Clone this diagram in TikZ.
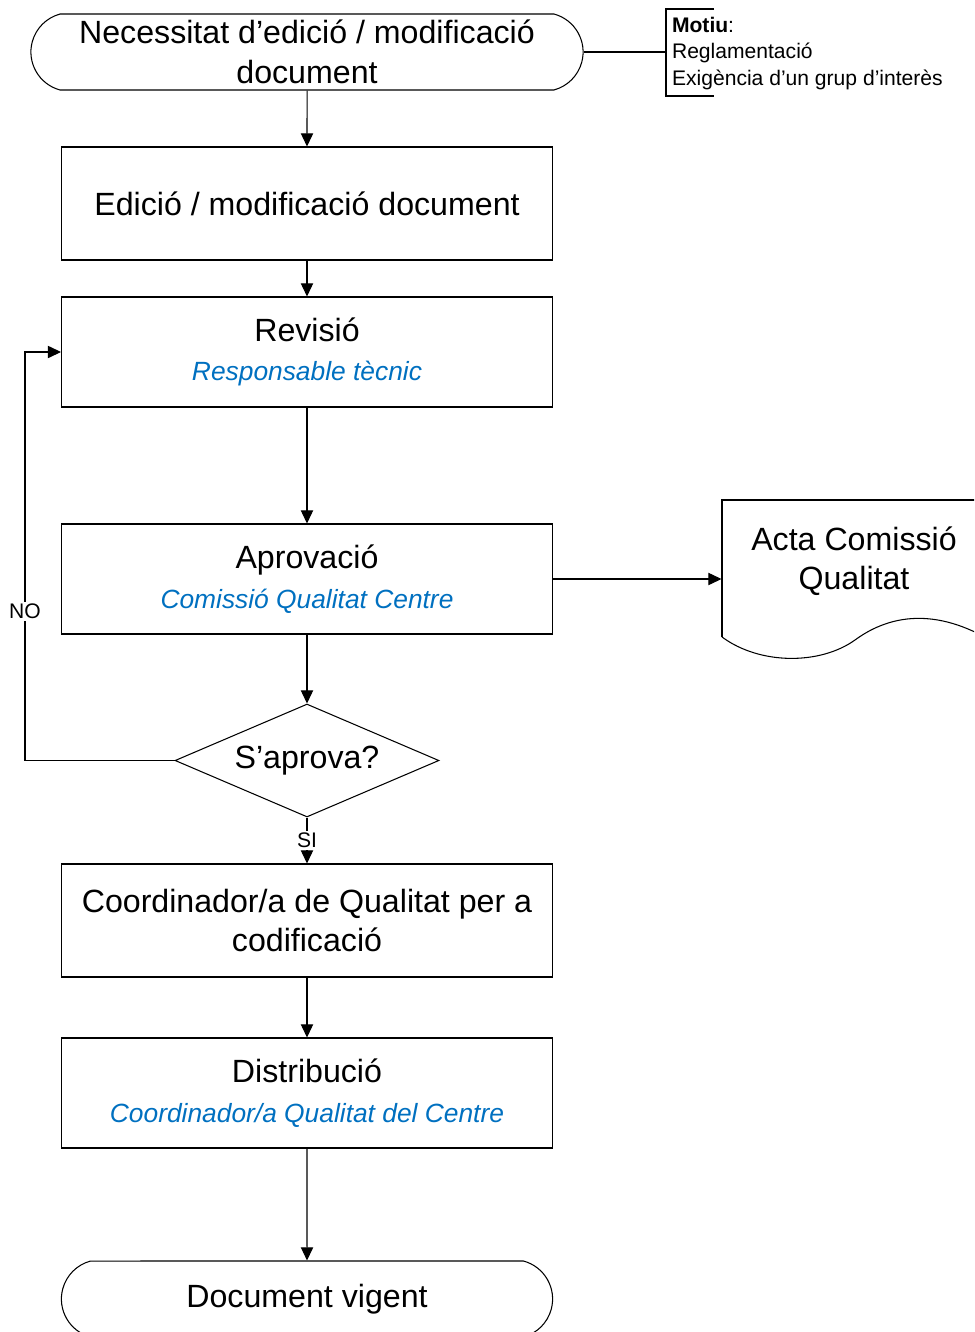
\documentclass[tikz,border=0pt]{standalone}
\usepackage{fontspec}
\setmainfont{Liberation Sans}
\usetikzlibrary{shapes.geometric,shapes.misc,arrows.meta}
\definecolor{rolblue}{RGB}{0,112,192}
\newcommand{\rol}[1]{{\fontsize{15}{18}\selectfont\itshape\color{rolblue}#1}}

\begin{document}
\begin{tikzpicture}[x=0.02cm, y=-0.02cm, line width=0.6pt, >={Triangle[length=7.5pt,width=7pt]},
	font=\fontsize{18.3}{22.5}\selectfont,
	pas/.style={draw, rectangle, minimum width=9.82cm, minimum height=2.2cm, align=center},
	term/.style={draw, rounded rectangle, rounded rectangle arc length=150, minimum height=1.52cm, inner ysep=1pt, align=center},
	decisio/.style={draw, diamond, aspect=2.34, inner sep=0pt, minimum width=5.28cm, minimum height=2.26cm},
	etiq/.style={fill=white, font=\fontsize{12}{14}\selectfont, inner sep=1pt},
	nota/.style={font=\fontsize{12}{15}\selectfont, align=left, inner sep=2pt}]
	\useasboundingbox (0,0) rectangle (974,1332);
	\clip (0,0) rectangle (974,1332);
	% flux principal
	\node[term, minimum width=11.28cm] (necess) at (307,52) {Necessitat d’edició / modificació\\document};
	\node[pas, minimum height=2.26cm] (edicio) at (307,203.5) {Edició / modificació document};
	\node[pas] (revisio) at (307,352) {Revisió\\\rol{Responsable tècnic}};
	\node[pas] (aprov) at (307,579) {Aprovació\\\rol{Comissió Qualitat Centre}};
	\node[decisio] (saprova) at (307,760.5) {S’aprova?};
	\node[pas, minimum height=2.26cm] (codif) at (307,920.5) {Coordinador/a de Qualitat per a\\codificació};
	\node[pas] (distrib) at (307,1093) {Distribució\\\rol{Coordinador/a Qualitat del Centre}};
	\node[term, minimum width=10.06cm] (vigent) at (307,1299) {Document vigent};
	% acta
	\node[minimum width=5.28cm, align=center] (acta) at (854,561) {Acta Comissió\\Qualitat};
	\draw (722,637) -- (722,500) -- (990,500) -- (990,640);
	\draw (722,637) .. controls (760,665) and (820,665) .. (855,640) .. controls (885,618) and (930,605) .. (990,640);
	% motiu
	\node[nota, anchor=north west] (motiu) at (668,13) {\textbf{Motiu}:\\Reglamentació\\Exigència d’un grup d’interès};
	\coordinate (claud) at (666,52);
	\coordinate (retorn) at (25,0);
	\draw (714,9) -| (666,96) -- (714,96);
	\draw (necess.east) -- (claud);
	% connectors
	\draw[->] (necess) -- (edicio);
	\draw[->] (edicio) -- (revisio);
	\draw[->] (revisio) -- (aprov);
	\draw[->] (aprov) -- (saprova);
	\draw[->] (saprova) -- node[etiq]{SI} (codif);
	\draw[->] (codif) -- (distrib);
	\draw[->] (distrib) -- (vigent);
	\draw[->] (aprov.east) -- (aprov.east -| acta.west);
	\draw[->] (saprova.west) -- (saprova.west -| retorn) -- node[etiq, pos=0.365]{NO} (revisio.west -| retorn) -- (revisio.west);
\end{tikzpicture}
\end{document}
